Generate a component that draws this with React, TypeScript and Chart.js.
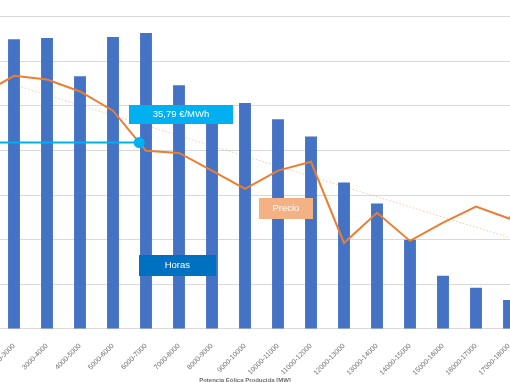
import React, { useEffect, useRef } from 'react';
import { Chart, registerables } from 'chart.js';

Chart.register(...registerables);

const categories = [
  '0-1000', '1000-2000', '2000-3000', '3000-4000', '4000-5000', '5000-6000',
  '6000-7000', '7000-8000', '8000-9000', '9000-10000', '10000-11000',
  '11000-12000', '12000-13000', '13000-14000', '14000-15000', '15000-16000',
  '16000-17000', '17000-18000', '18000-19000',
];

// Horas (primary axis)
const hours: (number | null)[] = [
  null, null, 649, 652, 566, 654, 663, 546, 479, 506, 470, 431, 328, 281, 200, 119, 92, 65, null,
];

// Precio €/MWh (secondary axis)
const prices: (number | null)[] = [
  null, 45.0, 48.6, 47.9, 45.6, 41.9, 34.2, 33.8, 30.4, 26.9, 30.4, 32.1, 16.5, 22.3, 16.9, 20.4, 23.5, 21.2, 28.5,
];

// Linear trend of price: start and end values only
const trend: (number | null)[] = [
  50.8, null, null, null, null, null, null, null, null, null, null, null, null, null, null, null, null, null, 15.6,
];

const refPrice = 35.79;
const refLabel = '35,79 €/MWh';
const axisTitle = 'Potencia Eólica Producida [MW]';
const hoursMax = 700;
const hoursStep = 100;
const priceMax = 60;

const FONT = '"Liberation Sans", Arial, sans-serif';

const annotPlugin = {
  id: 'annot',
  afterDatasetsDraw(chart: any) {
    const ctx = chart.ctx as CanvasRenderingContext2D;
    const xs = chart.scales.x;
    const ys = chart.scales.y;
    const y1 = chart.scales.y1;
    const ca = chart.chartArea;

    const py = y1.getPixelForValue(refPrice);
    let px: number | null = null;
    for (let i = 0; i < prices.length - 1; i++) {
      const a = prices[i];
      const b = prices[i + 1];
      if (a == null || b == null || a === b) continue;
      if ((a - refPrice) * (b - refPrice) <= 0) {
        const t = (a - refPrice) / (a - b);
        px = xs.getPixelForValue(i + t);
        break;
      }
    }
    ctx.save();
    if (px != null) {
      ctx.strokeStyle = '#00B0F0';
      ctx.lineWidth = 2;
      ctx.beginPath();
      ctx.moveTo(ca.left, py);
      ctx.lineTo(px, py);
      ctx.stroke();
      ctx.fillStyle = '#00B0F0';
      ctx.beginPath();
      ctx.arc(px, py, 5.5, 0, Math.PI * 2);
      ctx.fill();
    }

    const box = (cx: number, cy: number, w: number, h: number, color: string, text: string) => {
      ctx.fillStyle = color;
      ctx.fillRect(Math.round(cx - w / 2), Math.round(cy - h / 2), w, h);
      ctx.fillStyle = '#FFFFFF';
      ctx.font = `9.5px ${FONT}`;
      ctx.textAlign = 'center';
      ctx.textBaseline = 'middle';
      ctx.fillText(text, cx, cy + 0.5);
    };

    box(xs.getPixelForValue(7.06), y1.getPixelForValue(41.25), 104, 19, '#00B0F0', refLabel);
    box(xs.getPixelForValue(10.24), y1.getPixelForValue(23.2), 54, 21, '#F4B183', 'Precio');
    box(xs.getPixelForValue(6.95), ys.getPixelForValue(143), 77, 21, '#0070C0', 'Horas');

    // x axis title, centred on the plot area
    ctx.fillStyle = '#6E6E6E';
    ctx.font = `bold 6px ${FONT}`;
    ctx.textAlign = 'center';
    ctx.textBaseline = 'middle';
    ctx.fillText(axisTitle, (ca.left + ca.right) / 2, ca.bottom + 51);
    ctx.restore();
  },
};

export default function App() {
  const ref = useRef<HTMLCanvasElement | null>(null);

  useEffect(() => {
    if (!ref.current) return;
    const chart = new Chart(ref.current, {
      type: 'bar',
      data: {
        labels: categories,
        datasets: [
          {
            type: 'line',
            label: 'Precio',
            data: prices,
            yAxisID: 'y1',
            borderColor: '#ED7D31',
            borderWidth: 2,
            pointRadius: 0,
            tension: 0,
            order: 0,
          } as any,
          {
            type: 'bar',
            label: 'Horas',
            data: hours,
            yAxisID: 'y',
            backgroundColor: '#4472C4',
            barPercentage: 0.36,
            categoryPercentage: 1,
            order: 1,
          } as any,
          {
            type: 'line',
            label: 'Tendencia',
            data: trend,
            yAxisID: 'y1',
            borderColor: 'rgba(240,165,115,0.6)',
            borderWidth: 1,
            borderDash: [1.5, 2],
            pointRadius: 0,
            spanGaps: true,
            order: 2,
          } as any,
        ],
      },
      options: {
        responsive: false,
        animation: false,
        devicePixelRatio: 1,
        layout: { padding: { left: 11.5, right: 61.5, top: 16.5, bottom: 0 } },
        plugins: { legend: { display: false }, tooltip: { enabled: false } },
        scales: {
          x: {
            grid: { display: false },
            border: { display: false },
            ticks: {
              autoSkip: false,
              minRotation: 45,
              maxRotation: 45,
              padding: 5,
              color: '#6E6E6E',
              font: { family: FONT, size: 7 },
            },
          },
          y: {
            min: 0,
            max: hoursMax,
            ticks: { display: false, stepSize: hoursStep },
            grid: { color: '#D9D9D9', drawTicks: false },
            border: { display: false },
          },
          y1: {
            display: false,
            position: 'right',
            min: 0,
            max: priceMax,
          },
        },
      } as any,
      plugins: [annotPlugin],
    });
    return () => chart.destroy();
  }, []);

  return (
    <div
      style={{
        position: 'fixed',
        left: 0,
        top: 0,
        width: 510,
        height: 382,
        overflow: 'hidden',
        background: '#FFFFFF',
      }}
    >
      <canvas ref={ref} width={700} height={382} style={{ position: 'absolute', left: -80, top: 0 }} />
    </div>
  );
}
